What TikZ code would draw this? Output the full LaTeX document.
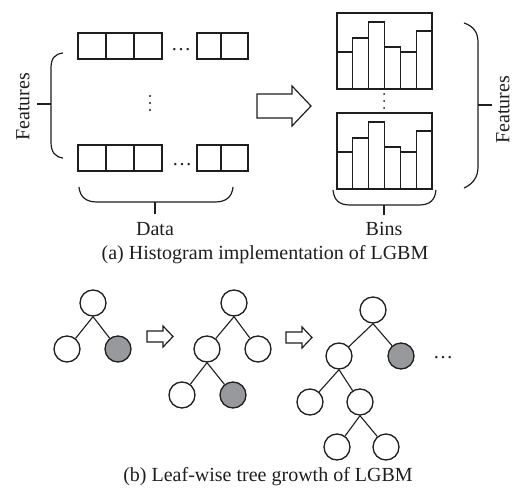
\documentclass[tikz,border=0pt]{standalone}
\usepackage{fontspec}
\setmainfont{Liberation Serif}
\definecolor{leafgray}{RGB}{152,153,156}
\definecolor{ink}{RGB}{30,30,30}
\begin{document}
\begin{tikzpicture}[x=1bp,y=-1bp,
  line/.style={line width=1.2bp, draw=ink},
  cell/.style={line width=1.2bp, draw=ink},
  leaf/.style={circle, draw=ink, line width=1.3bp, minimum size=26bp, inner sep=0pt, fill=white},
  hot/.style={leaf, fill=leafgray},
  edge/.style={line width=1.1bp, draw=ink},
  lbl/.style={font=\fontsize{20bp}{24bp}\selectfont, inner sep=0pt, text=ink},
  vdot/.style={fill=ink},
]
\useasboundingbox (0,0) rectangle (515,493);

% ---- data rows ----
\foreach \a/\b in {78/106,106/134,134/162,197/221,221/248}{
  \draw[cell] (\a,33) rectangle (\b,59);
  \draw[cell] (\a,145) rectangle (\b,171);
}
\node[lbl, anchor=base] (d1) at (181,51) {…};
\node[lbl, anchor=base] (d2) at (182,166) {…};
\foreach \y in {96,103,110}{ \fill[vdot] (150,\y) circle (1.1bp); }

% ---- left brace ----
\draw[line] (63,53) .. controls (55,54) and (51,58) .. (51,68) -- (51,142) .. controls (51,152) and (55,157) .. (63,158);
\coordinate (lt) at (37,104);
\draw[line] (lt) -- (51,104);
\node[lbl, rotate=90] (fl) at (23,107) {Features};

% ---- data brace ----
\draw[line] (79,187) .. controls (80,197) and (86,202) .. (97,202) -- (215,202) .. controls (226,202) and (232,197) .. (233,187);
\coordinate (dt) at (155,214);
\draw[line] (155,202) -- (dt);
\node[lbl, anchor=base] (data) at (155,235) {Data};

% ---- big arrow ----
\draw[line] (257,94) -- (292,94) -- (292,86) -- (311,106) -- (292,126) -- (292,118) -- (257,118) -- cycle;

% ---- histograms ----
\foreach \yb in {89,189}{
  \foreach \i/\h in {0/37,1/51,2/67,3/42,4/37,5/58}{
    \draw[cell] ({337+\i*95/6},\yb) rectangle ({337+(\i+1)*95/6},{\yb-\h});
  }
  \draw[cell] (337,\yb-76) rectangle (432,\yb);
  \draw[line width=2.2bp, draw=ink] (336,\yb) -- (433,\yb);
}
\foreach \y in {94,101,108}{ \fill[vdot] (384,\y) circle (1bp); }

% ---- bins brace ----
\draw[line] (333,190) .. controls (334,200) and (339,205) .. (350,205) -- (419,205) .. controls (430,205) and (435,200) .. (436,190);
\draw[line] (384,205) -- (384,215);
\node[lbl, anchor=base] (bins) at (384,235) {Bins};

% ---- right brace ----
\draw[line] (464,23) .. controls (473,26) and (478,32) .. (478,42) -- (478,167) .. controls (478,177) and (473,184) .. (464,188);
\draw[line] (478,105) -- (492,105);
\node[lbl, rotate=90] (fr) at (503,110) {Features};

\node[lbl, anchor=base] (capa) at (265,259) {(a) Histogram implementation of LGBM};

% ---- trees ----
\node[leaf] (a0) at (93,303) {};
\node[leaf] (a1) at (67,349) {};
\node[hot]  (a2) at (118,349) {};
\draw[edge] (a0.south) -- (a1);
\draw[edge] (a0.south) -- (a2);

\draw[line] (147,331) -- (163,331) -- (163,326) -- (173,336.5) -- (163,347) -- (163,342) -- (147,342) -- cycle;

\node[leaf] (b0) at (234,303) {};
\node[leaf] (b1) at (207,349) {};
\node[leaf] (b2) at (258,349) {};
\node[leaf] (b3) at (182,395) {};
\node[hot]  (b4) at (233,395) {};
\draw[edge] (b0.south) -- (b1);
\draw[edge] (b0.south) -- (b2);
\draw[edge] (b1.south) -- (b3);
\draw[edge] (b1.south) -- (b4);

\draw[line] (286,332) -- (302,332) -- (302,327) -- (312,337.5) -- (302,348) -- (302,343) -- (286,343) -- cycle;

\node[leaf] (c0) at (373,310) {};
\node[leaf] (c1) at (339,356) {};
\node[hot]  (c2) at (401,356) {};
\node[leaf] (c3) at (310,402) {};
\node[leaf] (c4) at (360,402) {};
\node[leaf] (c5) at (337,447) {};
\node[leaf] (c6) at (386,447) {};
\draw[edge] (c0.south) -- (c1);
\draw[edge] (c0.south) -- (c2);
\draw[edge] (c1.south) -- (c3);
\draw[edge] (c1.south) -- (c4);
\draw[edge] (c4.south) -- (c5);
\draw[edge] (c4.south) -- (c6);
\node[lbl, anchor=base] (cd) at (443,358) {…};

\node[lbl, anchor=base] (capb) at (268,481) {(b) Leaf-wise tree growth of LGBM};
\end{tikzpicture}
\end{document}
